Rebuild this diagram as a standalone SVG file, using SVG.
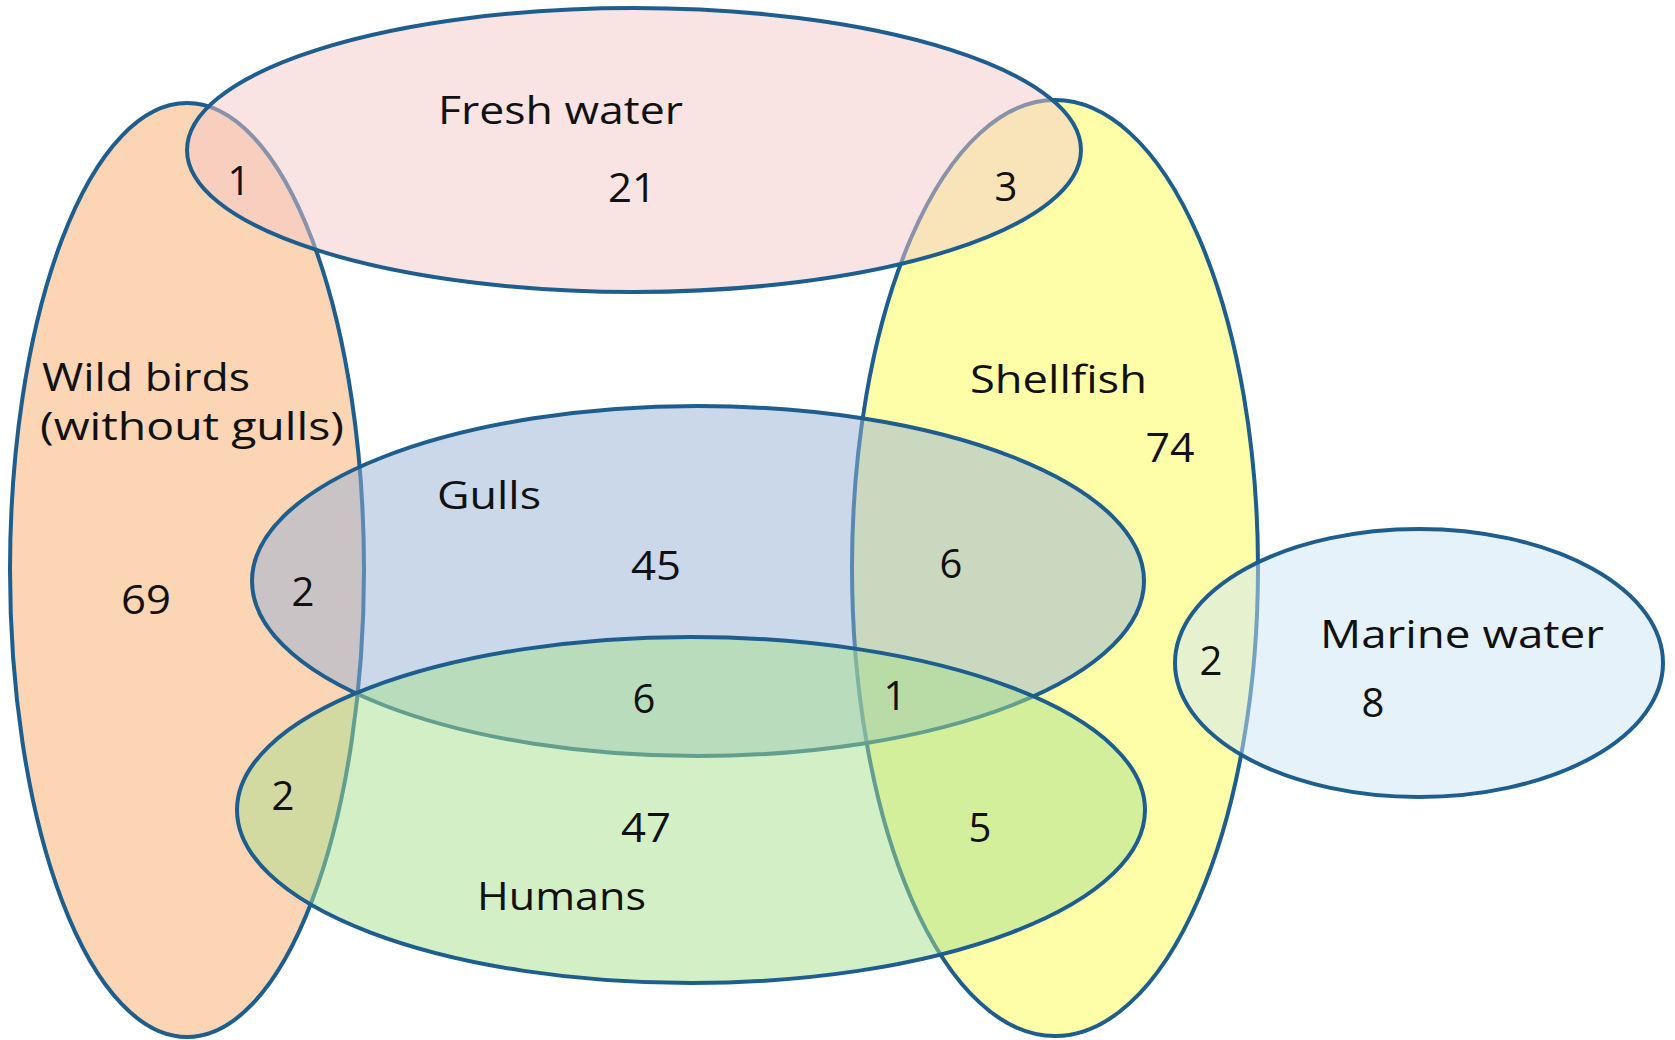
<svg xmlns="http://www.w3.org/2000/svg" width="1675" height="1040" viewBox="0 0 1675 1040">
<style>
.set{stroke:#1D5E8E;stroke-width:4;fill-opacity:0.5}
.lbl{font-family:"Open Sans","Liberation Sans",sans-serif;font-size:38px;fill:#111}
.num{font-family:"Open Sans","Liberation Sans",sans-serif;font-size:40px;fill:#111;text-anchor:middle}
</style>
<rect width="1675" height="1040" fill="#ffffff"/>
<g id="wild-birds">
<ellipse class="set" fill="#F9AB6B" cx="187" cy="570" rx="177" ry="467"/>
</g>
<g id="shellfish">
<ellipse class="set" fill="#FDFD51" cx="1055" cy="568" rx="203" ry="468"/>
</g>
<g id="gulls">
<ellipse class="set" fill="#96B2D6" cx="698" cy="581" rx="446" ry="175"/>
</g>
<g id="fresh-water">
<ellipse class="set" fill="#F3C7C7" cx="634" cy="150" rx="447" ry="142"/>
</g>
<g id="humans">
<ellipse class="set" fill="#A7DF8D" cx="691" cy="810" rx="454" ry="173"/>
</g>
<g id="marine-water">
<ellipse class="set" fill="#CDE5F5" cx="1419" cy="663" rx="244" ry="134"/>
</g>
<g id="labels">
<text class="lbl" x="438" y="124" textLength="245" lengthAdjust="spacingAndGlyphs">Fresh water</text>
<text class="lbl" x="42" y="391" textLength="208" lengthAdjust="spacingAndGlyphs">Wild birds</text>
<text class="lbl" x="40" y="440" textLength="304" lengthAdjust="spacingAndGlyphs">(without gulls)</text>
<text class="lbl" x="437" y="509" textLength="104" lengthAdjust="spacingAndGlyphs">Gulls</text>
<text class="lbl" x="970" y="393" textLength="177" lengthAdjust="spacingAndGlyphs">Shellfish</text>
<text class="lbl" x="1320" y="648" textLength="284" lengthAdjust="spacingAndGlyphs">Marine water</text>
<text class="lbl" x="477" y="910" textLength="169" lengthAdjust="spacingAndGlyphs">Humans</text>
<text class="num" x="632" y="202" textLength="48" lengthAdjust="spacingAndGlyphs">21</text>
<text class="num" x="239" y="195">1</text>
<text class="num" x="1006" y="201">3</text>
<text class="num" x="1170" y="462" textLength="49" lengthAdjust="spacingAndGlyphs">74</text>
<text class="num" x="146" y="614" textLength="50" lengthAdjust="spacingAndGlyphs">69</text>
<text class="num" x="303" y="606">2</text>
<text class="num" x="656" y="580" textLength="50" lengthAdjust="spacingAndGlyphs">45</text>
<text class="num" x="951" y="578">6</text>
<text class="num" x="644" y="713">6</text>
<text class="num" x="895" y="710">1</text>
<text class="num" x="1211" y="675">2</text>
<text class="num" x="1373" y="717">8</text>
<text class="num" x="283" y="810">2</text>
<text class="num" x="646" y="842" textLength="50" lengthAdjust="spacingAndGlyphs">47</text>
<text class="num" x="980" y="842">5</text>
</g>
</svg>
